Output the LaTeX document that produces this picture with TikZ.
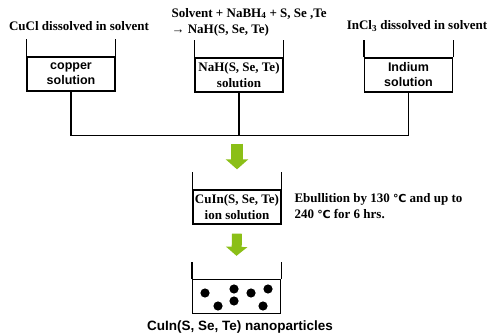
\documentclass[tikz,border=0pt]{standalone}
\usepackage{fontspec}
\setmainfont{Liberation Serif}
\setsansfont{Liberation Sans}
\newfontfamily\degfont{DejaVu Sans}
\usepackage{tikz}
\usetikzlibrary{arrows.meta,calc}
\definecolor{arrowgreen}{RGB}{139,191,23}
\tikzset{
  beaker/.style={draw, line width=1.3pt, minimum width=88pt, minimum height=34pt, inner sep=0pt, align=center},
  serifbold/.style={font=\fontsize{13}{16}\selectfont\bfseries},
  sansbold/.style={font=\fontsize{12.5}{15}\selectfont\sffamily\bfseries},
  wall/.style={line width=1.3pt},
  pipe/.style={line width=1.3pt},
  fatarrow/.style={draw=arrowgreen, line width=12pt, -{Triangle[width=22pt,length=10pt]}}
}
\newcommand{\degC}{{\degfont\fontsize{11}{13}\selectfont ℃}}
\begin{document}
\begin{tikzpicture}[x=1pt,y=-1pt]
\useasboundingbox (0,0) rectangle (489,336);
% titles
\node[serifbold] (t1) at (79,26) {CuCl dissolved in solvent};
\node[serifbold, anchor=west, align=left] (t2) at (168,22) {Solvent + NaBH\textsubscript{4} + S, Se ,Te\\ → NaH(S, Se, Te)};
\node[serifbold] (t3) at (417,26) {InCl\textsubscript{3} dissolved in solvent};
% beakers
\node[beaker, sansbold] (cu) at (71,74) {copper\\solution};
\node[beaker, serifbold] (nah) at (239,75) {NaH(S, Se, Te)\\solution};
\node[beaker, sansbold] (in) at (408.5,75) {Indium\\solution};
\node[beaker, serifbold] (ion) at (237,207) {CuIn(S, Se, Te)\\ion solution};
\node[beaker] (np) at (236.5,296.5) {};
\foreach \b in {cu,nah,in,ion,np}
  \draw[wall] (\b.north west) -- ++(0,-17) (\b.north east) -- ++(0,-17);
% pipes
\draw[pipe] (cu.south) -- ++(0,44) coordinate (bus) -| (in.south);
\draw[pipe] (nah.south) -- (nah.south |- bus);
% arrows
\draw[fatarrow] ($(ion.north |- bus)+(0,8)$) -- ($(ion.north)+(0,-20)$);
\draw[fatarrow, line width=10pt, -{Triangle[width=21pt,length=9pt]}] ($(ion.south)+(0,9)$) -- ($(np.north)+(0,-23)$);
% particles
\foreach \dx/\dy in {-31.5/-3.5, -18.5/9.5, -2.5/-7.5, -2.5/4.5, 14.5/-3.5, 31.5/-7.5, 26.5/9.5}
  \fill ($(np)+(\dx,\dy)$) circle (4.6);
% side notes
\node[serifbold, anchor=west, align=left] (cond) at (291,206) {Ebullition by 130 \degC{} and up to\\240 \degC{} for 6 hrs.};
\node[sansbold, font=\fontsize{13.5}{16}\selectfont\sffamily\bfseries] (cap) at (240,327) {CuIn(S, Se, Te) nanoparticles};
\end{tikzpicture}
\end{document}
